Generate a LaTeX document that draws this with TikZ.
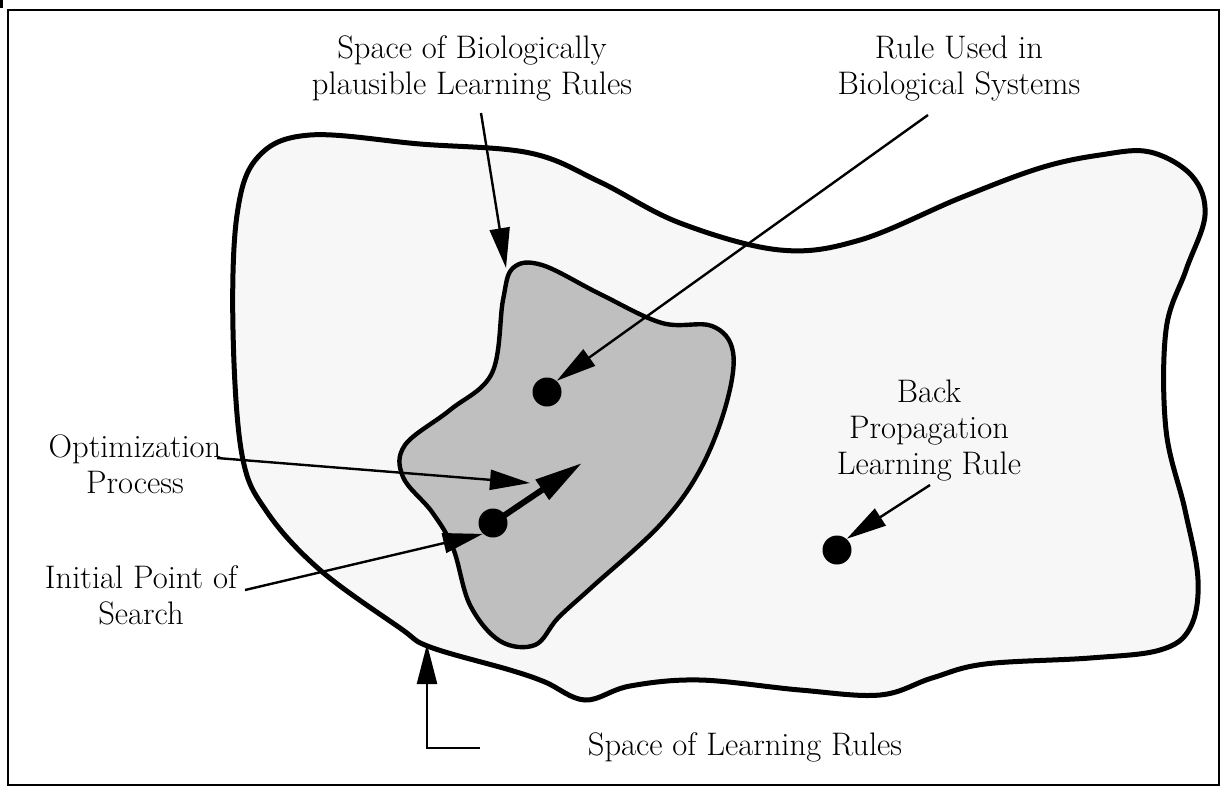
\documentclass[tikz,border=0pt]{standalone}
\usetikzlibrary{arrows.meta}
\definecolor{outerfill}{RGB}{247,247,247}
\definecolor{innerfill}{RGB}{191,191,191}
\begin{document}
\begin{tikzpicture}[x=0.5pt,y=-0.5pt,
 lbl/.style={align=center,inner sep=0pt,font=\fontsize{16.3}{18}\selectfont},
 dot/.style={circle,fill=black,inner sep=0pt,minimum size=14.5pt},
 thinarrow/.style={line width=1.2pt,-{Triangle[length=20pt,width=10pt]}},
 thickarrow/.style={line width=3pt,-{Triangle[length=24pt,width=11.5pt]}},
 blob/.style={line width=2.5pt,line join=round},
]
\useasboundingbox (0,0) rectangle (1229,793);
\fill[white] (0,0) rectangle (1229,793);
\fill[black] (0,0) rectangle (3,8);
\draw[line width=1.3pt] (8,10) rectangle (1219,785);
% outer region
\draw[blob,fill=outerfill] plot[smooth cycle,tension=0.6] coordinates {
(233,330) (237,215) (258,157) (310,135) (420,144) (530,153) (600,182)
(680,223) (780,250) (860,240) (960,198) (1040,168) (1100,155) (1150,152)
(1192,176) (1205,215) (1186,270) (1166,330) (1166,430) (1185,510) (1198,580)
(1190,628) (1160,650) (1090,658) (985,664) (932,678) (880,695) (800,690)
(700,680) (630,686) (585,700) (545,682) (510,670) (430,647) (400,628)
(320,570) (267,512) (242,455)};
% inner region
\draw[line width=2.2pt,line join=round,fill=innerfill] plot[smooth cycle,tension=0.6] coordinates {
(503,300) (513,268) (542,265) (600,294) (662,323) (712,326) (733,352)
(726,405) (700,470) (660,525) (592,587) (558,618) (535,645) (500,641)
(470,605) (453,548) (432,512) (403,477) (405,445) (450,410) (492,373)};
% dots
\node[dot] (ruledot) at (547,392) {};
\node[dot] (initdot) at (493,523) {};
\node[dot] (bpdot) at (837,550) {};
% labels
\node[lbl] (bio) at (472,68) {Space of Biologically\\plausible Learning Rules};
\node[lbl] (rule) at (959,69) {Rule Used in\\Biological Systems};
\node[lbl] (opt) at (135,464) {Optimization\\Process};
\node[lbl] (init) at (141,595) {Initial Point of\\Search};
\node[lbl] (bp) at (929,431) {Back\\Propagation\\Learning Rule};
\node[lbl] (slr) at (745,747) {Space of Learning Rules};
% connector ends
\coordinate (biotail) at (481,113);
\coordinate (biotip) at (506,268);
\coordinate (ruletail) at (928,115);
\coordinate (opttail) at (217,458);
\coordinate (opttip) at (530,483);
\coordinate (thicktip) at (582,463);
\coordinate (inittail) at (245,590);
\coordinate (bptail) at (930,485);
\coordinate (slrtail) at (480,748);
\coordinate (slrtip) at (427,644);
% connectors
\draw[thinarrow] (biotail) -- (biotip);
\draw[thinarrow] (ruletail) -- (ruledot.49);
\draw[thinarrow] (opttail) -- (opttip);
\draw[thickarrow] (initdot.center) -- (thicktip);
\draw[thinarrow] (inittail) -- (initdot.227);
\draw[thinarrow] (bptail) -- (bpdot.49);
\draw[thinarrow] (slrtail) -| (slrtip);
\end{tikzpicture}
\end{document}
